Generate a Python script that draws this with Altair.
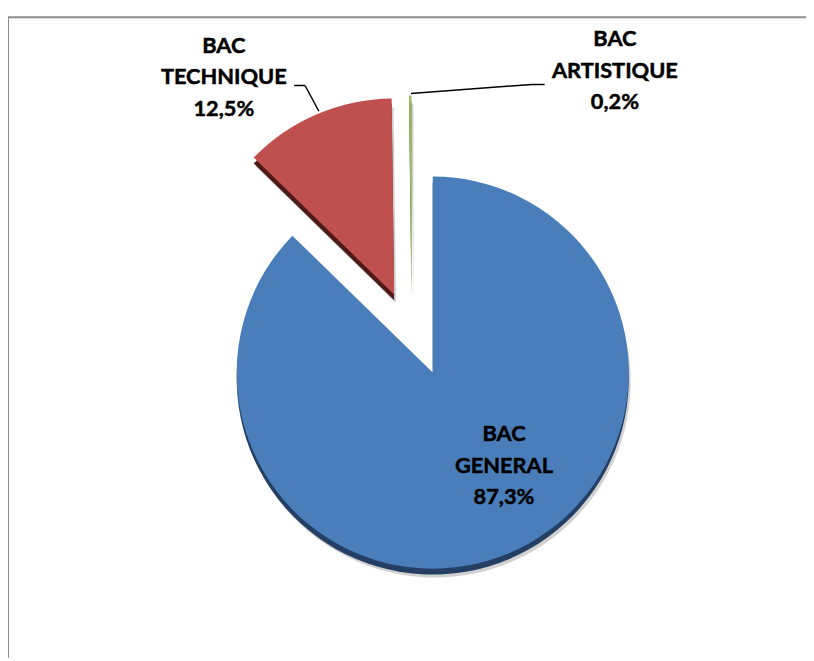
import math
import altair as alt
import pandas as pd

# ---- data ----
categories = ["BAC GENERAL", "BAC TECHNIQUE", "BAC ARTISTIQUE"]
values = [87.3, 12.5, 0.2]
colors = ["#4A7EBB", "#C0504D", "#9BBB59"]
rim_colors = ["#243F63", "#4E1A18", "#4F6130"]

df = pd.DataFrame({"cat": categories, "value": values, "order": [0, 1, 2]})

W, H = 806, 653
R = 198
FONT = "Lato"

# slice layout (centre of each exploded slice, label anchor), styling only
layout = {
    "BAC GENERAL": dict(cx=429, cy=365, lx=501, ly=427),
    "BAC TECHNIQUE": dict(cx=390, cy=286, lx=218, ly=35),
    "BAC ARTISTIQUE": dict(cx=407.5, cy=283, lx=613, ly=28),
}

base = (
    alt.Chart(df)
    .transform_window(end="sum(value)", sort=[alt.SortField("order")], frame=[None, 0])
    .transform_calculate(start="datum.end - datum.value")
)

theta = alt.Theta("start:Q", scale=alt.Scale(domain=[0, 100], range=[0, 2 * math.pi]))
theta2 = alt.Theta2("end:Q")

layers = []
# shadows / rims first
for cat, rc in zip(categories, rim_colors):
    L = layout[cat]
    layers.append(
        base.transform_filter(alt.datum.cat == cat)
        .mark_arc(radius=R, color="#000000", opacity=0.18, xOffset=2, yOffset=9)
        .encode(theta=theta, theta2=theta2, x=alt.value(L["cx"]), y=alt.value(L["cy"]))
    )
    layers.append(
        base.transform_filter(alt.datum.cat == cat)
        .mark_arc(radius=R, color=rc, yOffset=6)
        .encode(theta=theta, theta2=theta2, x=alt.value(L["cx"]), y=alt.value(L["cy"]))
    )
for cat, c in zip(categories, colors):
    L = layout[cat]
    layers.append(
        base.transform_filter(alt.datum.cat == cat)
        .mark_arc(radius=R, color=c)
        .encode(theta=theta, theta2=theta2, x=alt.value(L["cx"]), y=alt.value(L["cy"]))
    )

# labels
for cat in categories:
    L = layout[cat]
    layers.append(
        base.transform_filter(alt.datum.cat == cat)
        .transform_calculate(
            label="replace(datum.cat, ' ', '\\n') + '\\n' + replace(format(datum.value, '.1f'), '.', ',') + '%'"
        )
        .mark_text(
            font=FONT, fontSize=22, fontWeight="bold", color="#000000",
            lineBreak="\n", lineHeight=32, align="center", baseline="middle",
            stroke="#000000", strokeWidth=0.5,
        )
        .encode(text="label:N", x=alt.value(L["lx"]), y=alt.value(L["ly"]))
    )

one = alt.Data(values=[{"k": 1}])

def seg(x1, y1, x2, y2, color="#000000", w=1.5):
    return alt.Chart(one).mark_rule(color=color, strokeWidth=w).encode(
        x=alt.value(x1), y=alt.value(y1), x2=alt.value(x2), y2=alt.value(y2)
    )

# leader lines
layers += [
    seg(289, 75, 300, 75),
    seg(300, 75, 314, 101),
    seg(407, 83, 529, 74),
    seg(529, 74, 542, 74),
]
# chart border (top and left visible)
layers += [
    seg(0, 6, W, 6, color="#8C8C8C", w=2),
    seg(0, 6, 0, H, color="#8C8C8C", w=2),
]

chart = (
    alt.layer(*layers)
    .properties(width=W, height=H, padding=0, autosize=alt.AutoSizeParams(type="none"))
    .configure_view(stroke=None)
)

chart.save("out.html", embed_options={"renderer": "svg", "actions": False})
